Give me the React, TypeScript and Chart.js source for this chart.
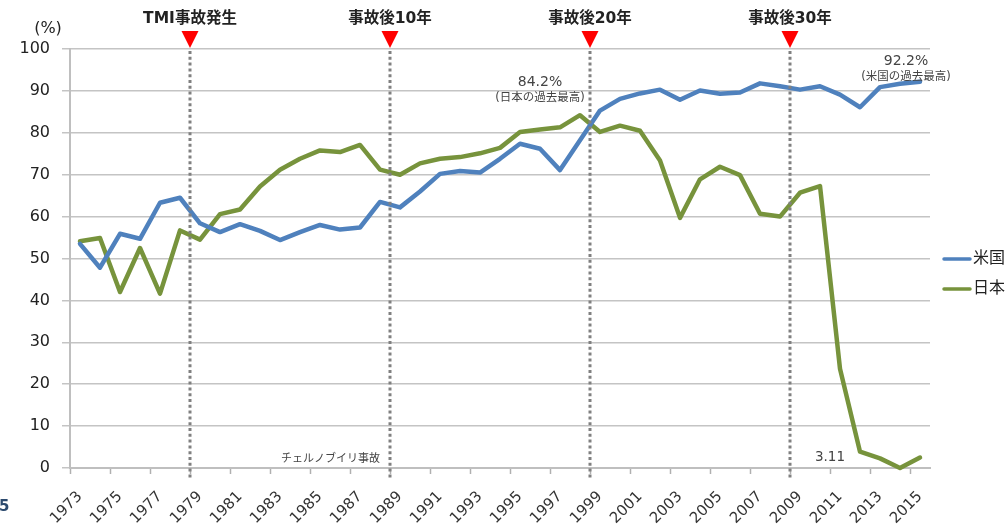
import React, { useEffect, useRef } from 'react';
import { Chart, registerables } from 'chart.js';

Chart.register(...registerables);

const years = [
  '1973', '1974', '1975', '1976', '1977', '1978', '1979', '1980', '1981', '1982',
  '1983', '1984', '1985', '1986', '1987', '1988', '1989', '1990', '1991', '1992',
  '1993', '1994', '1995', '1996', '1997', '1998', '1999', '2000', '2001', '2002',
  '2003', '2004', '2005', '2006', '2007', '2008', '2009', '2010', '2011', '2012',
  '2013', '2014', '2015',
];

const usValues = [
  53.5, 47.8, 55.9, 54.7, 63.3, 64.5, 58.4, 56.3, 58.2, 56.6,
  54.4, 56.3, 58.0, 56.9, 57.4, 63.5, 62.2, 66.0, 70.2, 70.9,
  70.5, 73.8, 77.4, 76.2, 71.1, 78.2, 85.3, 88.1, 89.4, 90.3,
  87.9, 90.1, 89.3, 89.6, 91.8, 91.1, 90.3, 91.1, 89.1, 86.1,
  90.9, 91.7, 92.2,
];

const japanValues = [
  54.1, 54.9, 42.0, 52.5, 41.6, 56.7, 54.5, 60.6, 61.7, 67.2,
  71.2, 73.8, 75.8, 75.4, 77.1, 71.2, 70.0, 72.7, 73.8, 74.2,
  75.1, 76.4, 80.2, 80.8, 81.3, 84.2, 80.2, 81.7, 80.5, 73.4,
  59.7, 68.9, 71.9, 69.9, 60.7, 60.0, 65.7, 67.3, 23.7, 3.9,
  2.3, 0.0, 2.5,
];

const seriesNames = ['米国', '日本'];
const seriesColors = ['#4f81bd', '#77933c'];

const eventYears = ['1979', '1989', '1999', '2009'];
const eventLabels = ['TMI事故発生', '事故後10年', '事故後20年', '事故後30年'];

const yMin = 0;
const yMax = 100;
const yStep = 10;

const FONT = "'DejaVu Sans', 'Noto Sans CJK JP', sans-serif";

const overlayPlugin = {
  id: 'overlay',
  afterDatasetsDraw(chart: any) {
    const ctx = chart.ctx;
    const xs = chart.scales.x;
    const ys = chart.scales.y;
    const area = chart.chartArea;
    const boundary = (yr: string) => {
      const i = years.indexOf(yr);
      return (xs.getPixelForValue(i - 1) + xs.getPixelForValue(i)) / 2;
    };

    ctx.save();
    eventYears.forEach((yr, k) => {
      const px = boundary(yr);
      ctx.strokeStyle = '#808080';
      ctx.lineWidth = 3;
      ctx.setLineDash([3, 2.8]);
      ctx.beginPath();
      ctx.moveTo(px, area.top + 2);
      ctx.lineTo(px, area.bottom + 12);
      ctx.stroke();
      ctx.setLineDash([]);
      ctx.fillStyle = '#ff0000';
      ctx.beginPath();
      ctx.moveTo(px - 8.5, area.top - 18);
      ctx.lineTo(px + 8.5, area.top - 18);
      ctx.lineTo(px, area.top - 1);
      ctx.closePath();
      ctx.fill();
      ctx.font = `bold 15.5px ${FONT}`;
      ctx.fillStyle = '#222222';
      ctx.textAlign = 'center';
      ctx.textBaseline = 'middle';
      ctx.fillText(eventLabels[k], px, area.top - 30);
    });

    // peak annotations
    ctx.fillStyle = '#444444';
    ctx.textAlign = 'center';
    ctx.textBaseline = 'middle';
    const jpX = xs.getPixelForValue(years.indexOf('1996'));
    ctx.font = `14px ${FONT}`;
    ctx.fillText('84.2%', jpX, ys.getPixelForValue(92));
    ctx.font = `11.5px ${FONT}`;
    ctx.fillText('(日本の過去最高)', jpX, ys.getPixelForValue(88.3));

    const usX = xs.getPixelForValue(years.indexOf('2014')) + 6;
    ctx.font = `14px ${FONT}`;
    ctx.fillText('92.2%', usX, ys.getPixelForValue(97.1));
    ctx.font = `11.5px ${FONT}`;
    ctx.fillText('(米国の過去最高)', usX, ys.getPixelForValue(93.3));

    ctx.font = `11px ${FONT}`;
    ctx.textAlign = 'right';
    ctx.fillText('チェルノブイリ事故', boundary('1989') - 10, ys.getPixelForValue(2.1));

    ctx.font = `13.5px ${FONT}`;
    ctx.textAlign = 'center';
    ctx.fillText('3.11', boundary('2011'), ys.getPixelForValue(2.4));

    // unit label
    ctx.fillStyle = '#222222';
    ctx.font = `16px ${FONT}`;
    ctx.fillText('(%)', area.left - 22, area.top - 20);

    // legend
    seriesNames.forEach((name, k) => {
      const ly = 259 + k * 30;
      ctx.strokeStyle = seriesColors[k];
      ctx.lineWidth = 3.5;
      ctx.lineCap = 'round';
      ctx.beginPath();
      ctx.moveTo(944, ly);
      ctx.lineTo(970, ly);
      ctx.stroke();
      ctx.fillStyle = '#222222';
      ctx.font = `16px ${FONT}`;
      ctx.textAlign = 'left';
      ctx.textBaseline = 'middle';
      ctx.fillText(name, 973, ly);
    });

    // page number fragment
    ctx.fillStyle = '#2c4a6e';
    ctx.font = `bold 15px ${FONT}`;
    ctx.textAlign = 'left';
    ctx.fillText('5', -1, 507);
    ctx.restore();
  },
};

export default function App() {
  const ref = useRef<HTMLCanvasElement | null>(null);

  useEffect(() => {
    if (!ref.current) return;
    const chart = new Chart(ref.current, {
      type: 'line',
      data: {
        labels: years,
        datasets: [
          {
            label: seriesNames[0],
            data: usValues,
            borderColor: seriesColors[0],
            backgroundColor: seriesColors[0],
            borderWidth: 4.5,
            pointRadius: 0,
            tension: 0,
            borderJoinStyle: 'round',
            borderCapStyle: 'round',
            clip: false,
          },
          {
            label: seriesNames[1],
            data: japanValues,
            borderColor: seriesColors[1],
            backgroundColor: seriesColors[1],
            borderWidth: 4.5,
            pointRadius: 0,
            tension: 0,
            borderJoinStyle: 'round',
            borderCapStyle: 'round',
            clip: false,
          },
        ],
      },
      options: {
        responsive: false,
        animation: false,
        devicePixelRatio: 1,
        layout: { padding: { top: 49, right: 77, bottom: 0, left: 0 } },
        plugins: {
          legend: { display: false },
          tooltip: { enabled: false },
          title: { display: false },
        },
        scales: {
          x: {
            type: 'category',
            offset: true,
            afterFit: (scale: any) => {
              scale.height = 57;
            },
            grid: {
              offset: true,
              drawOnChartArea: false,
              drawTicks: true,
              tickLength: 6,
              tickWidth: 1.5,
              tickColor: (c: any) =>
                typeof c.index === 'number' && c.index % 2 === 0 ? '#b0b0b0' : 'rgba(0,0,0,0)',
            },
            border: { display: true, color: '#bfbfbf', width: 2 },
            ticks: {
              autoSkip: false,
              maxRotation: 45,
              minRotation: 45,
              padding: 14,
              color: '#333333',
              font: { family: FONT, size: 15 },
              callback: (_v: any, i: number) => (i % 2 === 0 ? years[i] : ''),
            },
          },
          y: {
            min: yMin,
            max: yMax,
            afterFit: (scale: any) => {
              scale.width = 70;
            },
            grid: {
              color: '#c4c4c4',
              lineWidth: 1.5,
              drawTicks: true,
              tickLength: 8,
              tickColor: '#c4c4c4',
            },
            border: { display: true, color: '#bfbfbf', width: 2 },
            ticks: {
              stepSize: yStep,
              padding: 12,
              color: '#222222',
              font: { family: FONT, size: 16 },
            },
          },
        },
      },
      plugins: [overlayPlugin],
    } as any);
    return () => chart.destroy();
  }, []);

  return (
    <div style={{ position: 'fixed', left: 0, top: 0, width: 1007, height: 525, background: '#ffffff' }}>
      <canvas ref={ref} width={1007} height={525} style={{ display: 'block' }} />
    </div>
  );
}
